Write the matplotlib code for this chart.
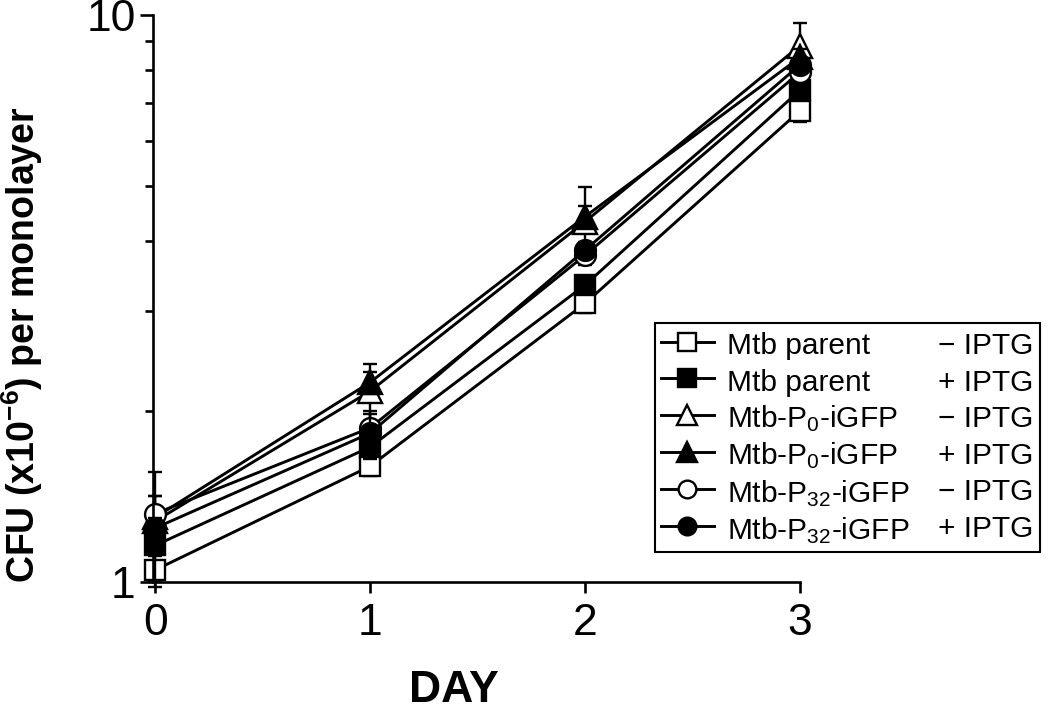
import matplotlib
matplotlib.use("Agg")
import matplotlib.pyplot as plt
from matplotlib.lines import Line2D
from matplotlib.ticker import LogLocator, NullFormatter, FixedLocator

plt.rcParams['font.family'] = ['Liberation Sans', 'DejaVu Sans']
plt.rcParams['mathtext.fontset'] = 'custom'
plt.rcParams['mathtext.rm'] = 'Liberation Sans'
plt.rcParams['mathtext.it'] = 'Liberation Sans:italic'
plt.rcParams['mathtext.bf'] = 'Liberation Sans:bold'

days = [0, 1, 2, 3]

parent_minus = [1.05, 1.60, 3.10, 6.78]
parent_plus = [1.16, 1.73, 3.34, 7.37]
p0_minus = [1.28, 2.17, 4.32, 8.83]
p0_plus = [1.30, 2.25, 4.41, 8.42]
p32_minus = [1.32, 1.87, 3.77, 7.93]
p32_plus = [1.245, 1.83, 3.85, 8.17]

parent_minus_err = [0.07, 0.06, 0.12, 0.30]
parent_plus_err = [0.05, 0.08, 0.12, 0.25]
p0_minus_err = [0.28, 0.25, 0.65, 0.85]
p0_plus_err = [0.12, 0.10, 0.20, 0.30]
p32_minus_err = [0.10, 0.13, 0.15, 0.30]
p32_plus_err = [0.05, 0.15, 0.12, 0.25]

names = ["Mtb parent", "Mtb parent",
         "Mtb-P$_{0}$-iGFP", "Mtb-P$_{0}$-iGFP",
         "Mtb-P$_{32}$-iGFP", "Mtb-P$_{32}$-iGFP"]
iptg = ["\u2212 IPTG", "+ IPTG", "\u2212 IPTG", "+ IPTG", "\u2212 IPTG", "+ IPTG"]

series = [parent_minus, parent_plus, p0_minus, p0_plus, p32_minus, p32_plus]
errors = [parent_minus_err, parent_plus_err, p0_minus_err, p0_plus_err,
          p32_minus_err, p32_plus_err]
markers = ['s', 's', '^', '^', 'o', 'o']
sizes = [15, 15, 17, 17, 15, 15]
fills = ['white', 'black', 'white', 'black', 'white', 'black']

fig = plt.figure(figsize=(10.5, 7.09), dpi=100)
ax = fig.add_axes([153 / 1050, 1 - 582 / 709, 647 / 1050, 567 / 709])

handles = []
for vals, err, m, ms, fc in zip(series, errors, markers, sizes, fills):
    ax.errorbar(days, vals, yerr=err, fmt='none', ecolor='black',
                elinewidth=1.7, capsize=4.7, capthick=1.7, clip_on=False)
    h, = ax.plot(days, vals, color='black', lw=2.1, marker=m, ms=ms,
                 mfc=fc, mec='black', mew=1.7, clip_on=False)
    handles.append(h)

ax.set_yscale('log')
ax.set_ylim(1, 10)
ax.set_xlim(-0.01, 3.0)

ax.xaxis.set_major_locator(FixedLocator(days))
ax.yaxis.set_major_locator(FixedLocator([1, 10]))
ax.set_yticklabels(["1", "10"])
ax.yaxis.set_minor_locator(LogLocator(base=10, subs=range(2, 10)))
ax.yaxis.set_minor_formatter(NullFormatter())

for s in ['top', 'right']:
    ax.spines[s].set_visible(False)
for s in ['left', 'bottom']:
    ax.spines[s].set_linewidth(1.9)

ax.tick_params(axis='both', which='major', direction='out', length=9.5,
               width=1.9, labelsize=32)
ax.tick_params(axis='y', which='minor', direction='out', length=6, width=1.9)
ax.tick_params(axis='y', which='major', pad=3)
ax.tick_params(axis='x', which='major', length=8, pad=7)

ax.set_xlabel("DAY", fontsize=32, fontweight='bold')
ax.xaxis.set_label_coords(0.465, -0.155)
ax.set_ylabel(r"CFU (x10$^{\mathbf{-6}}$) per monolayer", fontsize=27,
              fontweight='bold')
ax.yaxis.set_label_coords(-0.167, 0.418)

blank = [Line2D([], [], linestyle='none', marker='none') for _ in iptg]
leg = ax.legend(handles + blank, names + iptg, ncol=2, loc='upper left',
                bbox_to_anchor=(655 / 1050, 1 - 323 / 709),
                bbox_transform=fig.transFigure, borderaxespad=0,
                fontsize=21.5, handlelength=1.77, handletextpad=0.43,
                handleheight=1.2, columnspacing=-1.22, labelspacing=0.17,
                borderpad=0.2, numpoints=1, markerscale=0.85,
                fancybox=False, framealpha=1, edgecolor='black')
leg.get_frame().set_linewidth(1.5)

fig.savefig("out.png", dpi=100)
